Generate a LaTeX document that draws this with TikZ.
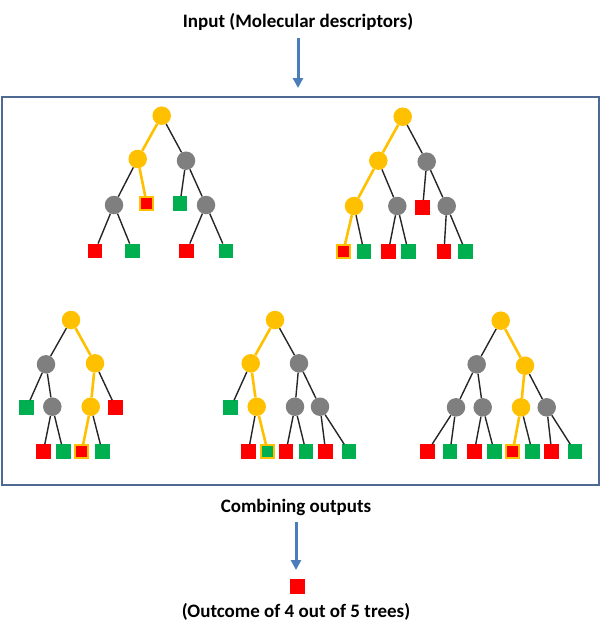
\documentclass[tikz,border=0pt]{standalone}
\usepackage{fontspec}
\setmainfont{Carlito}
\usetikzlibrary{arrows.meta}
\definecolor{gold}{HTML}{FFC000}
\definecolor{stone}{HTML}{7F7F7F}
\definecolor{leafred}{HTML}{FF0000}
\definecolor{leafgreen}{HTML}{00B050}
\definecolor{framecol}{HTML}{4E6A94}
\definecolor{arrowcol}{HTML}{4A7DBA}
\begin{document}
\begin{tikzpicture}[x=1pt,y=-1pt,
  yc/.style={circle,fill=gold,minimum size=18.5pt,inner sep=0pt},
  gc/.style={circle,fill=stone,minimum size=18.5pt,inner sep=0pt},
  rs/.style={rectangle,fill=leafred,minimum size=14.5pt,inner sep=0pt},
  gs/.style={rectangle,fill=leafgreen,minimum size=14.5pt,inner sep=0pt},
  rsh/.style={rectangle,fill=leafred,draw=gold,line width=1.6pt,minimum size=13pt,inner sep=0pt},
  gsh/.style={rectangle,fill=leafgreen,draw=gold,line width=1.6pt,minimum size=13pt,inner sep=0pt},
  be/.style={draw=black!85,line width=1.4pt},
  ye/.style={draw=gold,line width=2.6pt},
  arr/.style={draw=arrowcol,line width=3pt,-{Triangle[width=10pt,length=10pt]}},
  lbl/.style={font=\bfseries\fontsize{19}{22}\selectfont,inner sep=0pt}]
\useasboundingbox (0,0) rectangle (610,626);

% heading, frame and bottom labels
\node[lbl] (input) at (298,22) {Input (Molecular descriptors)};
\node[draw=framecol,line width=1.8pt,minimum width=597pt,minimum height=388pt,inner sep=0pt] (frame) at (300.5,291) {};
\node[lbl] (combine) at (296,507) {Combining outputs};
\node[rs,minimum size=15pt] (result) at (297,586) {};
\node[lbl] (outcome) at (296,612) {(Outcome of 4 out of 5 trees)};
\coordinate (a1s) at (298,38);
\coordinate (a1e) at (298,88);
\coordinate (a2s) at (296,522);
\coordinate (a2e) at (296,570);
\draw[arr] (a1s) -- (a1e);
\draw[arr] (a2s) -- (a2e);

% tree 1
\node[yc] (t1r) at (161.7,115.7) {};
\node[yc] (t1a) at (137.7,159) {};
\node[gc] (t1b) at (186,160.7) {};
\node[gc] (t1c) at (114,205) {};
\node[rsh] (t1d) at (146.7,203.3) {};
\node[gs] (t1e) at (180,203.3) {};
\node[gc] (t1f) at (206,205) {};
\node[rs] (t1g) at (95,251) {};
\node[gs] (t1h) at (132.7,251) {};
\node[rs] (t1i) at (186.7,251) {};
\node[gs] (t1j) at (226,251) {};
\path[ye] (t1r) -- (t1a);
\path[ye] (t1a) -- (t1d);
\path[be] (t1r) -- (t1b);
\path[be] (t1a) -- (t1c);
\path[be] (t1b) -- (t1e);
\path[be] (t1b) -- (t1f);
\path[be] (t1c) -- (t1g);
\path[be] (t1c) -- (t1h);
\path[be] (t1f) -- (t1i);
\path[be] (t1f) -- (t1j);

% tree 2
\node[yc] (t2r) at (402.7,116.7) {};
\node[yc] (t2a) at (378.3,160.7) {};
\node[gc] (t2b) at (426.7,161.7) {};
\node[yc] (t2c) at (354,206) {};
\node[gc] (t2d) at (397.3,206) {};
\node[rs] (t2e) at (422.7,207.3) {};
\node[gc] (t2f) at (446.7,206) {};
\node[rsh] (t2g) at (343.3,251.7) {};
\node[gs] (t2h) at (364,251.7) {};
\node[rs] (t2i) at (388.3,251.7) {};
\node[gs] (t2j) at (408.3,251.7) {};
\node[rs] (t2k) at (444,251.7) {};
\node[gs] (t2l) at (465.7,251.7) {};
\path[ye] (t2r) -- (t2a);
\path[ye] (t2a) -- (t2c);
\path[ye] (t2c) -- (t2g);
\path[be] (t2r) -- (t2b);
\path[be] (t2a) -- (t2d);
\path[be] (t2b) -- (t2e);
\path[be] (t2b) -- (t2f);
\path[be] (t2c) -- (t2h);
\path[be] (t2d) -- (t2i);
\path[be] (t2d) -- (t2j);
\path[be] (t2f) -- (t2k);
\path[be] (t2f) -- (t2l);

% tree 3
\node[yc] (t3r) at (71,320) {};
\node[gc] (t3a) at (46,364.3) {};
\node[yc] (t3b) at (95,363.3) {};
\node[gs] (t3c) at (26.7,407.7) {};
\node[gc] (t3d) at (52.3,406.7) {};
\node[yc] (t3e) at (90.7,406.7) {};
\node[rs] (t3f) at (115.7,407.7) {};
\node[rs] (t3g) at (43.3,451.7) {};
\node[gs] (t3h) at (63.3,451.7) {};
\node[rsh] (t3i) at (81.7,451.7) {};
\node[gs] (t3j) at (102.3,451.7) {};
\path[ye] (t3r) -- (t3b);
\path[ye] (t3b) -- (t3e);
\path[ye] (t3e) -- (t3i);
\path[be] (t3r) -- (t3a);
\path[be] (t3a) -- (t3c);
\path[be] (t3a) -- (t3d);
\path[be] (t3b) -- (t3f);
\path[be] (t3d) -- (t3g);
\path[be] (t3d) -- (t3h);
\path[be] (t3e) -- (t3j);

% tree 4
\node[yc] (t4r) at (275,320) {};
\node[yc] (t4a) at (250.7,363.3) {};
\node[gc] (t4b) at (299,363.3) {};
\node[gs] (t4c) at (230.7,407.7) {};
\node[yc] (t4d) at (256.7,406.7) {};
\node[gc] (t4e) at (295,406.7) {};
\node[gc] (t4f) at (320,406.7) {};
\node[rs] (t4g) at (248.3,451.7) {};
\node[gsh] (t4h) at (267.7,451.7) {};
\node[rs] (t4i) at (286,451.7) {};
\node[gs] (t4j) at (306,451.7) {};
\node[rs] (t4k) at (325.7,451.7) {};
\node[gs] (t4l) at (349,451.7) {};
\path[ye] (t4r) -- (t4a);
\path[ye] (t4a) -- (t4d);
\path[ye] (t4d) -- (t4h);
\path[be] (t4r) -- (t4b);
\path[be] (t4a) -- (t4c);
\path[be] (t4b) -- (t4e);
\path[be] (t4b) -- (t4f);
\path[be] (t4d) -- (t4g);
\path[be] (t4e) -- (t4i);
\path[be] (t4e) -- (t4j);
\path[be] (t4f) -- (t4k);
\path[be] (t4f) -- (t4l);

% tree 5
\node[yc] (t5r) at (500.7,320.7) {};
\node[gc] (t5a) at (476.7,364.3) {};
\node[yc] (t5b) at (525,365.7) {};
\node[gc] (t5c) at (456,407.3) {};
\node[gc] (t5d) at (482.7,407.3) {};
\node[yc] (t5e) at (521,407.3) {};
\node[gc] (t5f) at (546.7,407.3) {};
\node[rs] (t5g) at (427.3,451.7) {};
\node[gs] (t5h) at (450,451.7) {};
\node[rs] (t5i) at (474.3,451.7) {};
\node[gs] (t5j) at (494.3,451.7) {};
\node[rsh] (t5k) at (512.7,451.7) {};
\node[gs] (t5l) at (532.3,451.7) {};
\node[rs] (t5m) at (551.7,451.7) {};
\node[gs] (t5n) at (575,451.7) {};
\path[ye] (t5r) -- (t5b);
\path[ye] (t5b) -- (t5e);
\path[ye] (t5e) -- (t5k);
\path[be] (t5r) -- (t5a);
\path[be] (t5a) -- (t5c);
\path[be] (t5a) -- (t5d);
\path[be] (t5b) -- (t5f);
\path[be] (t5c) -- (t5g);
\path[be] (t5c) -- (t5h);
\path[be] (t5d) -- (t5i);
\path[be] (t5d) -- (t5j);
\path[be] (t5e) -- (t5l);
\path[be] (t5f) -- (t5m);
\path[be] (t5f) -- (t5n);
\end{tikzpicture}
\end{document}
